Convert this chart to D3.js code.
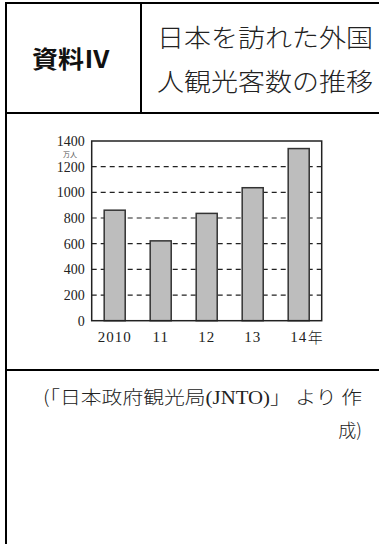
<!DOCTYPE html>
<html>
<head>
<meta charset="utf-8">
<script src="https://cdn.jsdelivr.net/npm/d3@7"></script>
<style>
  html, body { margin: 0; padding: 0; background: #fff; }
  svg { display: block; }
</style>
</head>
<body>
<script>
// ---- data ----
const years = ["2010", "11", "12", "13", "14"];
const visitors = [861, 622, 836, 1036, 1341]; // 万人
const yTicks = [0, 200, 400, 600, 800, 1000, 1200, 1400];
const yUnit = "万人";
const yearSuffix = "年";
const label = "資料Ⅳ";
const titleLines = ["日本を訪れた外国", "人観光客数の推移"];
const sourceParts = ["(「日本政府観光局", "(JNTO)", "」 より 作"];
const sourceLine2 = "成)";

const W = 379, H = 544;
const svg = d3.select("body").append("svg").attr("width", W).attr("height", H);

const CJK = "'Noto Sans CJK JP', 'Noto Sans', sans-serif";
const SERIF = "'Liberation Serif', 'DejaVu Serif', serif";

// ---- table frame ----
const lineC = "#000";
svg.append("line").attr("x1", 5).attr("x2", W).attr("y1", 3).attr("y2", 3).attr("stroke", lineC).attr("stroke-width", 2);
svg.append("line").attr("x1", 6).attr("x2", 6).attr("y1", 2).attr("y2", H).attr("stroke", lineC).attr("stroke-width", 2);
svg.append("line").attr("x1", 141).attr("x2", 141).attr("y1", 3).attr("y2", 113).attr("stroke", lineC).attr("stroke-width", 2);
svg.append("line").attr("x1", 6).attr("x2", W).attr("y1", 113).attr("y2", 113).attr("stroke", lineC).attr("stroke-width", 2);
svg.append("line").attr("x1", 6).attr("x2", W).attr("y1", 370).attr("y2", 370).attr("stroke", lineC).attr("stroke-width", 2);

// ---- header ----
svg.append("text").attr("x", 71).attr("y", 68).attr("text-anchor", "middle")
  .attr("font-family", CJK).attr("font-weight", "bold").attr("font-size", 24)
  .attr("textLength", 78).attr("lengthAdjust", "spacingAndGlyphs")
  .attr("fill", "#111").text(label);

svg.selectAll("text.title").data(titleLines).join("text").attr("class", "title")
  .attr("x", 157).attr("y", (d, i) => 47 + i * 44)
  .attr("font-family", CJK).attr("font-size", 25).attr("font-weight", 300)
  .attr("textLength", 216).attr("lengthAdjust", "spacingAndGlyphs")
  .attr("fill", "#222").text(d => d);

// ---- chart ----
const x0 = 91.7, x1 = 321.7, yTop = 141, yBot = 320.7;
const x = d3.scaleBand().domain(years).range([x0, x1]).paddingInner(0.543).paddingOuter(0.2715);
const y = d3.scaleLinear().domain([0, 1400]).range([yBot, yTop]);

// gridlines
svg.append("g").selectAll("line").data(yTicks.filter(t => t > 0 && t < 1400)).join("line")
  .attr("x1", x0).attr("x2", x1).attr("y1", d => y(d)).attr("y2", d => y(d))
  .attr("stroke", "#222").attr("stroke-width", 1.2).attr("stroke-dasharray", "5,4");

// bars
svg.append("g").selectAll("rect").data(visitors).join("rect")
  .attr("x", (d, i) => x(years[i]))
  .attr("width", x.bandwidth())
  .attr("y", d => y(d))
  .attr("height", d => yBot - y(d))
  .attr("fill", "#bdbdbd").attr("stroke", "#333").attr("stroke-width", 1.5);

// frame
svg.append("rect").attr("x", x0).attr("y", yTop).attr("width", x1 - x0).attr("height", yBot - yTop)
  .attr("fill", "none").attr("stroke", "#222").attr("stroke-width", 1.5);

// y axis
const yAxis = svg.append("g").attr("transform", `translate(${x0},0)`)
  .call(d3.axisLeft(y).tickValues(yTicks).tickFormat(d3.format("d")).tickSize(0).tickPadding(7));
yAxis.select(".domain").remove();
yAxis.selectAll("text").attr("font-family", SERIF).attr("font-size", 14).attr("fill", "#222");

svg.append("text").attr("x", 70).attr("y", 157).attr("text-anchor", "middle")
  .attr("font-family", CJK).attr("font-size", 7).attr("fill", "#555").text(yUnit);

// x axis
const xAxis = svg.append("g").attr("transform", `translate(0,${yBot})`)
  .call(d3.axisBottom(x).tickSize(0).tickPadding(11));
xAxis.select(".domain").remove();
xAxis.selectAll("text").attr("font-family", SERIF).attr("font-size", 15).attr("fill", "#222")
  .attr("letter-spacing", 1);

const last = years[years.length - 1];
svg.append("text").attr("x", x(last) + x.bandwidth() / 2 + 9).attr("y", 343)
  .attr("font-family", CJK).attr("font-size", 15).attr("font-weight", 300).attr("fill", "#222")
  .text(yearSuffix);

// ---- source ----
const src = svg.append("text").attr("x", 43).attr("y", 404)
  .attr("font-family", CJK).attr("font-size", 18).attr("font-weight", 300)
  .attr("textLength", 319).attr("lengthAdjust", "spacingAndGlyphs")
  .attr("fill", "#222");
src.selectAll("tspan").data(sourceParts).join("tspan")
  .attr("font-family", (d, i) => i === 1 ? SERIF : CJK)
  .attr("font-weight", (d, i) => i === 1 ? "normal" : 300)
  .text(d => d);
svg.append("text").attr("x", 362).attr("y", 437).attr("text-anchor", "end")
  .attr("font-family", CJK).attr("font-size", 18).attr("font-weight", 300)
  .attr("fill", "#222").text(sourceLine2);
</script>
</body>
</html>
